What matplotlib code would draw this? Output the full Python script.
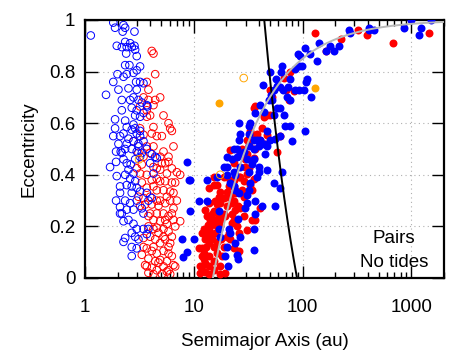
import numpy as np
import matplotlib
matplotlib.use("Agg")
import matplotlib.pyplot as plt
from matplotlib.ticker import LogLocator, NullFormatter, FixedLocator

plt.rcParams['font.family'] = ['Liberation Sans', 'DejaVu Sans']

# ---- data: filled blue ----
fb_a = [1530,1230,1190,1000,850,405,413,450,266,271,216,194,178,166,143,136,117,106,90.5,94,
        99,86,92,110,108,120,92,84.5,77,65,63.5,57.5,62.6,54.4,49.9,43.4,61.7,58.4,54.4,41,
        36.9,32,69.7,77.5,106.5,80,62.6,56.3,50.7,65,54.4,62.6,56.3,47.2,42.5,36.9,36,36,36.9,39.6,
        38.2,33.1,32,30.9,30.9,29.8,25.9,24.1,23.3,25.4,26.5,24.1,25,25.4,21.7,20.9,19.5,20.6,20.2,17.5,
        16.9,16.9,20.2,20.2,20.2,22.5,25,26.8,28.8,32,35.6,39.6,41,44,35.6,32,33.1,26.8,25.9,25,
        23.3,25.9,35.6,39.6,34.3,30.9,23.3,21.7,24.1,26.8,32,38.2,13.2,13.2,11.1,8.64,9.28,8.96,9.28,7.77,
        9.96,8.64,7.9,18.8,16.3,47.2,45.6,48.9,44,52.5,77.5,72.2,47.2,67.2,73,58.4,51.4,102.8,66]
fb_e = [1.0,0.97,0.94,1.0,0.97,0.97,0.96,0.96,0.96,0.95,0.90,0.88,0.90,0.88,0.91,0.84,0.87,0.89,0.87,0.86,
        0.82,0.81,0.82,0.77,0.76,0.70,0.73,0.73,0.77,0.82,0.80,0.77,0.74,0.73,0.80,0.75,0.66,0.66,0.63,0.67,
        0.64,0.59,0.59,0.59,0.57,0.53,0.55,0.54,0.535,0.41,0.37,0.35,0.28,0.42,0.28,0.25,0.19,0.11,0.30,0.41,
        0.39,0.37,0.34,0.32,0.29,0.27,0.33,0.34,0.355,0.23,0.16,0.135,0.09,0.075,0.175,0.19,0.085,0.045,0.12,0.16,
        0.19,0.26,0.40,0.43,0.47,0.46,0.47,0.48,0.49,0.51,0.50,0.51,0.535,0.52,0.535,0.56,0.60,0.56,0.535,0.50,
        0.50,0.60,0.46,0.43,0.44,0.46,0.41,0.37,0.40,0.43,0.41,0.535,0.38,0.30,0.30,0.45,0.38,0.38,0.26,0.15,
        0.15,0.10,0.08,0.43,0.39,0.51,0.48,0.69,0.645,0.69,0.69,0.70,0.57,0.63,0.74,0.745,0.71,0.73,0.73]

# ---- data: filled red ----
fr_a = [131.6,224,166,327,391,676,1464,76,67.2,70.9,83.1,74.8,50.7,52.5,62.6,58.4,36.9,35.6,47.2,44.6,
        50.7,42.5,47.2,38.2,35.6,30.9,32,27.8,26.8,30.9,36.9,21.7,23.3,35.6,29.8,30.9,28.8,32.8,35.6,34.3,
        26.8,27.8,24.1,23.3,21.7,22.5,20.2,18.8,17.5,16.3,15.2,15.2,13.7,15.2,14.2,13.7,11.9,12.8,13.7,11.9,
        11.1,12.3,12.8,11.9,12.8,13.7,17.5,19.5,17.5,18.2,19.1,20.2,15.2,14.7,15.8,16.3,17.5,19.5,22.5,24.1,
        25.4,23.3,25,25.9,30.9,34.3,36.9,41,32,23.3,20.9,20.2,18.8,16.9,13.7,12.8,13.2,14.3,12.5,13.9,
        15.2,16.3,17.8,20.9,21.7,23.3,25.9,16.3,14.2,13.4,15.2,16.9,21.7,29.8,33.1,44,41,26.8,28.8,20.5,
        22.5,17.5,12.3,11.5,13.7,15.2,11.5,12.8,15.8,17.5,23.3,25.9,28.8,45.6,16.3,19.1,14.7,13,11.9]
fr_e = [0.95,0.925,0.88,0.96,0.94,0.91,0.95,0.80,0.775,0.73,0.725,0.69,0.73,0.70,0.55,0.49,0.665,0.66,0.63,0.63,
        0.63,0.58,0.555,0.56,0.555,0.535,0.515,0.50,0.48,0.48,0.50,0.495,0.445,0.465,0.43,0.405,0.375,0.36,0.385,0.34,
        0.39,0.34,0.33,0.355,0.315,0.29,0.28,0.25,0.29,0.285,0.39,0.36,0.35,0.26,0.225,0.19,0.175,0.15,0.135,0.115,
        0.115,0.075,0.06,0.045,0.025,0.015,0.015,0.02,0.045,0.085,0.12,0.16,0.12,0.15,0.175,0.20,0.225,0.24,0.25,0.265,
        0.28,0.225,0.20,0.175,0.185,0.225,0.225,0.27,0.425,0.38,0.355,0.335,0.31,0.315,0.29,0.265,0.24,0.205,0.095,0.085,
        0.065,0.095,0.15,0.175,0.15,0.115,0.105,0.14,0.17,0.205,0.225,0.24,0.38,0.46,0.57,0.625,0.535,0.27,0.24,0.315,
        0.215,0.20,0.19,0.045,0.045,0.03,0.02,0.17,0.30,0.335,0.30,0.39,0.315,0.52,0.36,0.39,0.25,0.12,0.085]

# ---- data: open blue ----
ob_a = [1.13,1.82,1.89,2.26,2.34,2.22,2.85,1.96,2.18,2.34,2.42,2.6,2.69,2.85,2.39,2.89,2.99,2.56,2.34,2.79,
        2.99,3.21,2.42,2.26,1.99,1.82,2.03,2.51,2.95,2.99,3.21,3.45,1.56,2.18,2.6,2.79,3.1,3.33,3.7,2.69,
        2.99,2.89,3.21,3.45,3.75,2.18,1.89,1.89,2.34,2.79,2.89,2.42,2.69,2.26,2.1,2.51,2.99,3.21,3.21,2.79,
        3.1,3.45,3.1,2.69,2.42,2.34,2.18,2.99,3.33,3.7,4.11,4.42,1.93,2.13,2.26,2.42,2.63,2.89,3.21,2.51,
        2.79,2.34,2.6,2.42,2.69,2.89,2.99,3.21,3.7,2.69,2.99,2.6,2.34,2.1,2.42,2.79,3.33,3.45,3.83,2.18,
        2.26,2.51,2.79,2.99,2.69,2.89,3.1,2.34,2.69,2.99,2.26,3.45,3.83,4.11,4.26,3.97,4.57,3.7,2.69,1.96,
        1.93,1.82,2.03,1.7,2.1,2.1,1.93,2.1]
ob_e = [0.94,0.99,0.97,0.98,0.97,0.955,0.955,0.90,0.895,0.915,0.895,0.91,0.895,0.90,0.87,0.885,0.86,0.825,0.825,0.795,
        0.805,0.82,0.79,0.78,0.79,0.76,0.73,0.735,0.76,0.73,0.76,0.755,0.71,0.69,0.69,0.70,0.69,0.68,0.67,0.66,
        0.65,0.63,0.625,0.64,0.665,0.65,0.615,0.58,0.61,0.595,0.58,0.585,0.575,0.56,0.55,0.54,0.56,0.57,0.55,0.53,
        0.52,0.53,0.51,0.50,0.52,0.50,0.485,0.49,0.485,0.50,0.48,0.47,0.45,0.49,0.46,0.445,0.44,0.46,0.47,0.42,
        0.405,0.40,0.385,0.36,0.355,0.375,0.35,0.335,0.33,0.33,0.30,0.29,0.30,0.275,0.265,0.265,0.27,0.25,0.30,0.25,
        0.22,0.225,0.21,0.19,0.175,0.16,0.15,0.155,0.12,0.115,0.14,0.19,0.19,0.31,0.405,0.445,0.465,0.17,0.085,0.395,
        0.49,0.55,0.52,0.43,0.355,0.33,0.30,0.25]

# ---- data: open red ----
or_a = [4.26,4.11,4.42,3.7,3.83,3.83,4.42,3.45,3.21,3.7,4.26,3.97,4.91,4.26,4.11,4.57,5.27,5.86,6.07,6.29,
        6.51,5.09,3.7,3.21,3.45,2.79,3.7,3.1,3.45,3.97,4.91,5.86,5.09,4.57,5.46,4.26,3.7,4.11,4.91,5.46,
        6.29,7.5,3.7,4.26,4.57,5.27,6.07,6.51,5.66,4.57,4.11,4.74,5.46,6.07,6.51,3.97,4.57,5.27,5.86,6.51,
        7.5,4.26,4.91,5.66,3.83,4.26,4.74,5.27,5.86,6.29,3.97,4.42,4.91,5.46,6.07,3.45,3.7,4.11,4.57,5.27,
        5.86,6.29,3.33,3.83,4.42,4.91,5.66,6.51,3.57,4.11,4.57,5.27,5.86,6.75,3.83,4.26,5.09,6.07,3.45,3.97,
        3.45,3.33,3.21,2.99,3.33,4.26,5.27,5.86,6.29,6.99,5.66,4.57,3.57,3.83,4.91,6.29,6.75,5.46,4.57,4.26,
        5.27,5.86,3.7,5.66,4.74,3.21,3.1,4.91,6.75,6.99]
or_e = [0.87,0.88,0.79,0.76,0.73,0.69,0.69,0.70,0.665,0.65,0.67,0.63,0.70,0.585,0.56,0.55,0.63,0.60,0.58,0.57,
        0.51,0.55,0.625,0.58,0.555,0.53,0.51,0.485,0.47,0.485,0.47,0.45,0.445,0.425,0.445,0.43,0.40,0.38,0.375,0.375,
        0.37,0.40,0.35,0.355,0.34,0.34,0.335,0.33,0.315,0.30,0.285,0.28,0.29,0.30,0.27,0.25,0.25,0.25,0.24,0.225,
        0.22,0.225,0.22,0.21,0.20,0.19,0.175,0.19,0.18,0.16,0.16,0.15,0.135,0.15,0.135,0.12,0.115,0.105,0.095,0.105,
        0.095,0.085,0.09,0.075,0.065,0.07,0.065,0.05,0.05,0.04,0.03,0.045,0.03,0.045,0.02,0.015,0.015,0.015,0.155,0.315,
        0.31,0.37,0.405,0.425,0.44,0.51,0.49,0.47,0.425,0.41,0.405,0.385,0.285,0.24,0.30,0.25,0.20,0.225,0.195,0.12,
        0.16,0.12,0.045,0.025,0.06,0.28,0.315,0.42,0.37,0.30]

# ---- data: orange ----
orf_a = [16.9, 129.8]
orf_e = [0.68, 0.735]
oro_a = [28.8, 17.5, 3.14]
oro_e = [0.775, 0.40, 0.46]

# model curves: constant apocentre (black) and constant pericentre (grey)
Q_APO = 89.0
Q_PERI = 15.0

fig = plt.figure(figsize=(4.71, 3.55), dpi=100)
ax = fig.add_axes([85/471, 1-278/355, (444-85)/471, (278-20)/355])

OPEN_S = 30
FILL_S = 33
ax.scatter(or_a, or_e, s=OPEN_S, facecolors='none', edgecolors='#ff0000', linewidths=0.7, zorder=2)
ax.scatter(ob_a, ob_e, s=OPEN_S, facecolors='none', edgecolors='#0000ff', linewidths=0.7, zorder=2)
ax.scatter(fr_a, fr_e, s=FILL_S, color='#ff0000', linewidths=0, zorder=3)
ax.scatter(fb_a, fb_e, s=FILL_S, color='#0000ff', linewidths=0, zorder=3)
ax.scatter(orf_a, orf_e, s=FILL_S, color='#ffa500', linewidths=0, zorder=3)
ax.scatter(oro_a, oro_e, s=OPEN_S, facecolors='none', edgecolors='#ffa500', linewidths=0.7, zorder=3)

ecc = np.linspace(0, 1, 200)
ax.plot(Q_APO / (1 + ecc), ecc, color='black', lw=1.4, zorder=4)
ecc2 = np.linspace(0, 0.995, 400)
ax.plot(Q_PERI / (1 - ecc2), ecc2, color='#b8b8b8', lw=1.4, zorder=4)

ax.set_xscale('log')
ax.set_xlim(1, 2000)
ax.set_ylim(0, 1)
ax.xaxis.set_major_locator(FixedLocator([1, 10, 100, 1000]))
ax.set_xticklabels(['1', '10', '100', '1000'])
ax.xaxis.set_minor_locator(LogLocator(base=10, subs=np.arange(2, 10), numticks=20))
ax.xaxis.set_minor_formatter(NullFormatter())
ax.set_yticks([0, 0.2, 0.4, 0.6, 0.8, 1.0])
ax.set_yticklabels(['0', '0.2', '0.4', '0.6', '0.8', '1'])

FS = 13.5
ax.tick_params(axis='both', which='major', direction='in', length=9, width=1,
               top=True, right=True, labelsize=FS, colors='black')
ax.tick_params(axis='x', which='major', pad=15)
ax.tick_params(axis='y', which='major', pad=7)
ax.tick_params(axis='x', which='minor', direction='in', length=4.5, width=1, top=True)
for sp in ax.spines.values():
    sp.set_linewidth(1.6)

ax.grid(True, which='major', linestyle=(0, (1, 3)), color='#b0b0b0', linewidth=0.8)
ax.set_axisbelow(True)

ax.set_xlabel('Semimajor Axis (au)', fontsize=FS, labelpad=12)
ax.set_ylabel('Eccentricity', fontsize=FS, labelpad=8)

ax.text(0.86, 0.155, 'Pairs', transform=ax.transAxes, ha='center', va='center', fontsize=FS)
ax.text(0.86, 0.06, 'No tides', transform=ax.transAxes, ha='center', va='center', fontsize=FS)

fig.savefig('out.png', dpi=100)
